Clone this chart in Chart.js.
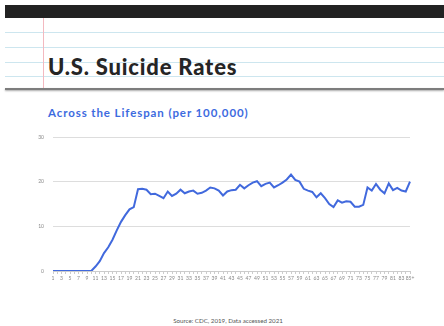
<!DOCTYPE html>
<html>
<head>
<meta charset="utf-8">
<script src="https://cdn.jsdelivr.net/npm/chart.js@4"></script>
<style>
  html, body { margin:0; padding:0; }
  body { width:444px; height:326px; background:#fff; overflow:hidden; position:relative; font-family:Lato, "Open Sans", sans-serif; }
  .bar { position:absolute; left:5px; top:5px; right:0; height:13px; background:#222; }
  .paper { position:absolute; left:5px; top:18px; right:0; height:71px; background:#fff; }
  .rule { position:absolute; left:0; right:0; height:1px; background:#cde6ef; }
  .margin { position:absolute; left:43px; top:18px; width:1px; height:71px; background:#f3b9c0; }
  .shadow { position:absolute; left:5px; right:0; top:88px; height:2px; background:#7d7d7d; box-shadow:0 1px 2px rgba(0,0,0,0.35); }
  .title { position:absolute; left:48px; top:55.5px; font-size:22px; line-height:22px; font-weight:900; color:#252525; letter-spacing:0.8px; }
  .subtitle { position:absolute; left:48px; top:106.5px; font-size:11.5px; line-height:11.5px; font-weight:700; color:#3d6be0; letter-spacing:0.9px; }
  .source { position:absolute; left:0; width:456px; top:317px; text-align:center; font-size:6.2px; color:#555; }
  #wrap { position:absolute; left:0; top:125px; width:444px; height:170px; }
</style>
</head>
<body>
<div class="bar"></div>
<div class="paper">
  <div class="rule" style="top:14px"></div>
  <div class="rule" style="top:29px"></div>
  <div class="rule" style="top:44px"></div>
  <div class="rule" style="top:58px"></div>
</div>
<div class="margin"></div>
<div class="shadow"></div>
<div class="title">U.S. Suicide Rates</div>
<div class="subtitle">Across the Lifespan (per 100,000)</div>
<div id="wrap"><canvas id="chart"></canvas></div>
<div class="source">Source: CDC, 2019, Data accessed 2021</div>
<script>
// ages 1..84 plus 85+
const ages = [];
for (let a = 1; a <= 84; a++) ages.push(String(a));
ages.push('85+');

// rate per 100,000
const rates = [
  0, 0, 0, 0, 0, 0, 0, 0, 0, 0,
  1.0, 2.2, 4.0, 5.3, 7.0, 9.1, 11.0, 12.5, 13.8, 14.3,
  18.3, 18.4, 18.2, 17.2, 17.3, 16.8, 16.3, 17.8, 16.8, 17.3,
  18.2, 17.4, 17.8, 18.0, 17.3, 17.5, 18.0, 18.7, 18.5, 18.0,
  16.9, 17.8, 18.1, 18.2, 19.3, 18.5, 19.2, 19.8, 20.1, 19.0,
  19.5, 19.8, 18.7, 19.2, 19.8, 20.5, 21.6, 20.4, 20.0, 18.4,
  18.0, 17.7, 16.5, 17.4, 16.3, 15.0, 14.3, 15.8, 15.3, 15.6,
  15.5, 14.4, 14.4, 14.8, 18.7, 18.0, 19.5, 18.2, 17.4, 19.6,
  18.1, 18.6, 18.0, 17.8, 20.0
];

const yTicks = [0, 10, 20, 30];

new Chart(document.getElementById('chart'), {
  type: 'line',
  data: {
    labels: ages,
    datasets: [{
      data: rates,
      borderColor: '#4169dd',
      borderWidth: 2,
      pointRadius: 0,
      tension: 0,
      fill: false
    }]
  },
  options: {
    responsive: true,
    maintainAspectRatio: false,
    animation: false,
    events: [],
    layout: { padding: { left: 0, right: 34, top: 11, bottom: 0 } },
    plugins: { legend: { display: false }, tooltip: { enabled: false } },
    scales: {
      x: {
        offset: false,
        afterFit: (s) => { s.height = 24; },
        grid: { drawOnChartArea: false, color: '#cccccc', tickLength: 3 },
        border: { color: '#cccccc' },
        ticks: {
          autoSkip: false, maxRotation: 0, minRotation: 0, padding: 1,
          color: '#888', font: { size: 5, family: 'Lato' },
          callback: (v, i) => (i % 2 === 0 ? ages[i] : '')
        }
      },
      y: {
        min: 0, max: 30,
        afterFit: (s) => { s.width = 53; },
        afterBuildTicks: (s) => { s.ticks = yTicks.map(v => ({ value: v })); },
        grid: { color: '#dddddd', tickLength: 0 },
        border: { display: false },
        ticks: { color: '#888', padding: 9, font: { size: 5, family: 'Lato' } }
      }
    }
  }
});
</script>
</body>
</html>
